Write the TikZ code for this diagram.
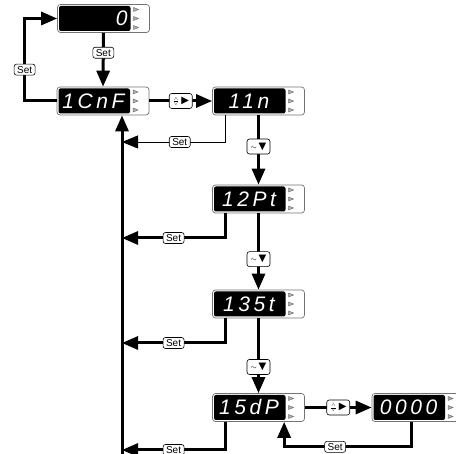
\documentclass[tikz,border=0pt]{standalone}
\usepackage{amsmath}
\usepackage{fontspec}
\usepackage{tikz}
\usetikzlibrary{arrows.meta}

\newfontfamily\segfont[LetterSpace=17]{Liberation Sans}
\newfontfamily\labelfont{Liberation Sans}
\newfontfamily\symfont{DejaVu Sans}
\newcommand{\segtext}[2][c]{{\segfont\itshape\fontsize{21}{21}\selectfont\color{white}\makebox[73pt][#1]{#2}\hspace{19pt}}}
\newcommand{\upkey}{$\scriptstyle\genfrac{}{}{.3pt}{}{\wedge}{\vee}$\,{\symfont\fontsize{10}{10}\selectfont ▶}}
\newcommand{\downkey}{$\scriptstyle\sim$\,{\symfont\fontsize{10}{10}\selectfont ▼}}

\begin{document}
\begin{tikzpicture}[
        x=1pt,y=-1pt,
        display/.style={draw=black!55,line width=.7pt,rounded corners=3pt,fill=white,
            minimum width=92pt,minimum height=28pt,inner sep=0pt,
            path picture={
                \fill[black,rounded corners=2pt]
                    ([xshift=1.5pt,yshift=-1.5pt]path picture bounding box.north west)
                    rectangle ([xshift=73pt,yshift=1.5pt]path picture bounding box.south west);
                \foreach \k in {-9,0,9}
                    \draw[line width=.5pt,fill=black!30,sharp corners]
                        ([shift={(76pt,\k pt-2pt)}]path picture bounding box.west)
                        -- ++(0pt,4pt) -- ++(5pt,-2pt) -- cycle;
            }},
        setkey/.style={draw,line width=.6pt,rounded corners=2.5pt,fill=white,
            inner xsep=3pt,inner ysep=2pt,font=\labelfont\fontsize{10}{10}\selectfont},
        keybox/.style={draw,line width=.6pt,rounded corners=2.5pt,fill=white,
            inner xsep=2pt,inner ysep=1pt,minimum height=15pt,minimum width=23pt,
            font=\fontsize{10}{10}\selectfont},
        flow/.style={line width=3pt,-{Triangle[length=16pt,width=13pt]}},
        thinflow/.style={line width=.8pt,-{Triangle[length=16pt,width=13pt]}}
    ]
    \useasboundingbox (0,0) rectangle (456,454);

    \node[display] (zero) at (103.5,18.5) {\segtext[r]{0\hspace{3pt}}};
    \node[display] (cnf) at (103,101) {\segtext{1CnF}};
    \node[display] (inp) at (258.5,101) {\segtext{11n}};
    \node[display] (ptype) at (258.5,199) {\segtext{12Pt}};
    \node[display] (stype) at (258.5,304) {\segtext{135t}};
    \node[display] (dpoint) at (258.5,407.5) {\segtext{15dP}};
    \node[display] (value) at (418,407.5) {\segtext{0000}};

    \coordinate (spine) at (122,458);
    \coordinate (back1) at (122,142);
    \coordinate (back2) at (122,238);
    \coordinate (back3) at (122,343);
    \coordinate (back4) at (122,450);

    \draw[flow] (zero.south) -- node[setkey,pos=.37] {Set} (cnf.north);
    \draw[flow] (cnf.west) -- ++(-32,0) |- node[setkey,pos=.19] {Set} (zero.west);
    \draw[flow] (cnf.east) -- node[keybox] {\upkey} (inp.west);
    \draw[flow] (spine) -- (cnf.south -| spine);

    \draw[thinflow] ([xshift=13pt]inp.south west) |- node[setkey,pos=.72] {Set} (back1);
    \draw[flow] (inp.south) -- node[keybox,pos=.45] {\downkey} (ptype.north);

    \draw[flow] ([xshift=13pt]ptype.south west) |- node[setkey,pos=.75] {Set} (back2);
    \draw[flow] (ptype.south) -- node[keybox,pos=.6] {\downkey} (stype.north);

    \draw[flow] ([xshift=13pt]stype.south west) |- node[setkey,pos=.75] {Set} (back3);
    \draw[flow] (stype.south) -- node[keybox,pos=.65] {\downkey} (dpoint.north);

    \draw[flow] ([xshift=13pt]dpoint.south west) |- node[setkey,pos=.75] {Set} (back4);
    \draw[flow] (dpoint.east) -- node[keybox] {\upkey} (value.west);
    \draw[flow] ([xshift=40pt]value.south west) -- ++(0,25)
        -| node[setkey,pos=.3] {Set} ([xshift=72pt]dpoint.south west);
\end{tikzpicture}
\end{document}
